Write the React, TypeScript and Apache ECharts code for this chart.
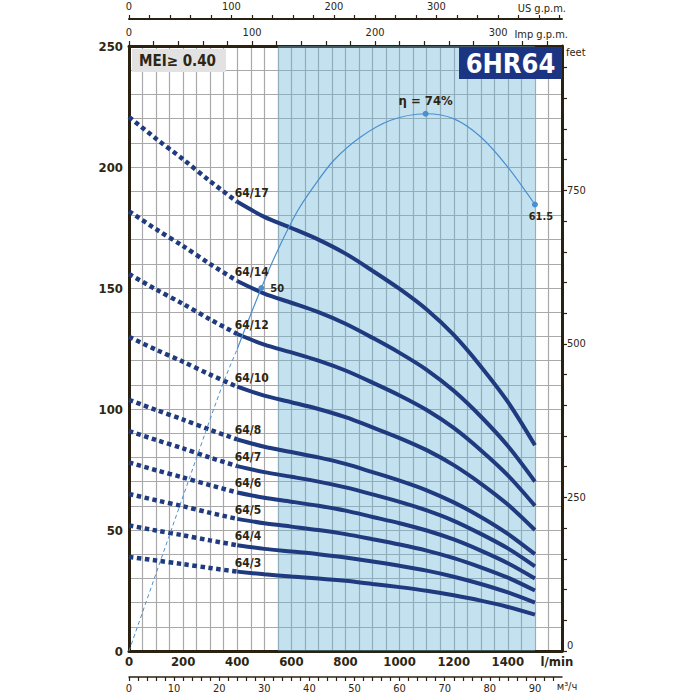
import React, { useEffect, useRef } from 'react';
import * as echarts from 'echarts';

// ---- Data ----
const flowLmin = [0, 100, 200, 300, 400, 500, 600, 700, 800, 900, 1000, 1100, 1200, 1300, 1400, 1500];
const curveNames = ['64/3', '64/4', '64/5', '64/6', '64/7', '64/8', '64/10', '64/12', '64/14', '64/17'];
const head64_3 = [38.9, 37.4, 35.9, 34.3, 32.8, 31.7, 30.8, 30.0, 29.0, 27.7, 26.4, 24.9, 23.0, 20.8, 18.2, 15.0];
const head64_4 = [51.9, 49.8, 47.8, 45.7, 43.7, 42.2, 41.1, 40.0, 38.6, 37.0, 35.2, 33.2, 30.7, 27.7, 24.2, 20.0];
const head64_5 = [64.9, 62.3, 59.8, 57.1, 54.6, 52.8, 51.4, 50.0, 48.3, 46.2, 44.0, 41.5, 38.4, 34.6, 30.3, 25.0];
const head64_6 = [77.9, 74.7, 71.7, 68.5, 65.5, 63.3, 61.7, 60.0, 58.0, 55.4, 52.8, 49.8, 46.1, 41.5, 36.3, 30.0];
const head64_7 = [90.9, 87.2, 83.7, 79.9, 76.4, 73.9, 72.0, 70.0, 67.6, 64.7, 61.6, 58.1, 53.8, 48.4, 42.4, 35.0];
const head64_8 = [103.8, 99.6, 95.6, 91.4, 87.4, 84.4, 82.2, 80.0, 77.3, 73.9, 70.4, 66.4, 61.4, 55.4, 48.4, 40.0];
const head64_10 = [129.8, 124.5, 119.5, 114.2, 109.2, 105.5, 102.8, 100.0, 96.6, 92.4, 88.0, 83.0, 76.8, 69.2, 60.5, 50.0];
const head64_12 = [155.8, 149.4, 143.4, 137.0, 131.0, 126.6, 123.4, 120.0, 115.9, 110.9, 105.6, 99.6, 92.2, 83.0, 72.6, 60.0];
const head64_14 = [181.7, 174.3, 167.3, 159.9, 152.9, 147.7, 143.9, 140.0, 135.2, 129.4, 123.2, 116.2, 107.5, 96.9, 84.7, 70.0];
const head64_17 = [220.7, 211.7, 203.2, 194.1, 185.6, 179.4, 174.8, 170.0, 164.2, 157.1, 149.6, 141.1, 130.6, 117.6, 102.9, 85.0];
const curveHeads = [head64_3, head64_4, head64_5, head64_6, head64_7, head64_8, head64_10, head64_12, head64_14, head64_17];
const dottedUntil = 400; // l/min, end of dotted part

const effDashedFlow = [0, 195, 343, 400];
const effDashed = [0, 20.8, 36.4, 41.6];
const effFlow = [400, 489, 547, 621, 683, 757, 856, 967, 1096, 1201, 1300, 1399, 1500];
const effValues = [41.6, 50, 55.0, 60.5, 64.0, 67.6, 70.8, 73.1, 74, 73.3, 70.8, 66.7, 61.5];
const effMarkedFlows = [489, 1096, 1500];

const operatingRange = [550, 1500];

const FONT = "'Liberation Sans Narrow', 'DejaVu Sans Condensed', 'Noto Sans', sans-serif";
const AXIS = '#2b2112';
const TXT = '#2e2614';
const CURVE = '#1f3a7e';
const EFF = '#4a8fd0';
const GRID = '#a9a9a9';

export default function App() {
  const ref = useRef<HTMLDivElement>(null);
  useEffect(() => {
    if (!ref.current) return;
    const chart = echarts.init(ref.current, undefined, { renderer: 'svg' });

    const series: any[] = [];
    series.push({
      type: 'line',
      data: [],
      xAxisIndex: 0,
      yAxisIndex: 0,
      silent: true,
      markArea: {
        silent: true,
        itemStyle: { color: 'rgba(105,180,212,0.4)' },
        data: [[{ xAxis: operatingRange[0], yAxis: 0 }, { xAxis: operatingRange[1], yAxis: 250 }]],
      },
    });

    curveNames.forEach((name, i) => {
      const pts = flowLmin.map((q, k) => [q, curveHeads[i][k]]);
      const dotted = pts.filter((p) => p[0] <= dottedUntil);
      const solid = pts.filter((p) => p[0] >= dottedUntil);
      series.push({
        type: 'line',
        name: name + ' dotted',
        data: dotted,
        smooth: 0.3,
        showSymbol: false,
        xAxisIndex: 0,
        yAxisIndex: 0,
        lineStyle: { color: CURVE, width: 4.5, type: [4.5, 3.5], cap: 'butt' },
        z: 3,
      });
      series.push({
        type: 'line',
        name,
        data: solid,
        smooth: 0.3,
        showSymbol: false,
        xAxisIndex: 0,
        yAxisIndex: 0,
        lineStyle: { color: CURVE, width: 4 },
        z: 3,
        markPoint: {
          silent: true,
          symbol: 'circle',
          symbolSize: 1,
          itemStyle: { color: 'rgba(0,0,0,0)' },
          label: {
            show: true,
            position: 'right',
            distance: 0,
            offset: [-3, -9],
            formatter: name,
            color: TXT,
            fontFamily: FONT,
            fontWeight: 'bold',
            fontSize: 12,
          },
          data: [{ coord: solid[0] }],
        },
      });
    });

    series.push({
      type: 'line',
      data: effDashedFlow.map((q, k) => [q, effDashed[k]]),
      smooth: 0.3,
      showSymbol: false,
      xAxisIndex: 0,
      yAxisIndex: 2,
      lineStyle: { color: EFF, width: 1, type: [4, 3] },
      z: 4,
    });
    series.push({
      type: 'line',
      data: effFlow.map((q, k) => {
        const v = effValues[k];
        if (!effMarkedFlows.includes(q)) return { value: [q, v], symbol: 'none' };
        const isPeak = v === Math.max(...effValues);
        const isEnd = k === effFlow.length - 1;
        return {
          value: [q, v],
          symbol: 'circle',
          symbolSize: 6,
          label: {
            show: true,
            position: isPeak ? 'top' : isEnd ? 'bottom' : 'right',
            distance: isPeak ? 4 : isEnd ? 3 : 6,
            offset: isEnd ? [6, 0] : [0, 0],
            formatter: isPeak ? `η = ${v}%` : `${v}`,
            color: TXT,
            fontFamily: FONT,
            fontWeight: 'bold',
            fontSize: isPeak ? 13 : 11,
          },
        };
      }),
      smooth: 0.3,
      showSymbol: true,
      xAxisIndex: 0,
      yAxisIndex: 2,
      itemStyle: { color: EFF },
      lineStyle: { color: EFF, width: 1.2 },
      z: 4,
    });

    const lab = (extra: any) => ({ color: TXT, fontFamily: FONT, ...extra });

    chart.setOption({
      animation: false,
      backgroundColor: '#ffffff',
      grid: { left: 129, right: 138, top: 46, bottom: 49, containLabel: false },
      xAxis: [
        {
          type: 'value', position: 'bottom', min: 0, max: 1600, interval: 50,
          axisLine: { show: true, onZero: false, lineStyle: { color: AXIS, width: 3 } },
          axisTick: { show: false },
          axisLabel: lab({ fontSize: 13, fontWeight: 'bold', margin: 4, showMaxLabel: false,
            formatter: (v: number) => (v % 200 === 0 && v <= 1400 ? String(v) : '') }),
          splitLine: { show: true, lineStyle: { color: GRID, width: 1.2 } },
        },
        {
          type: 'value', position: 'top', min: 0, max: 1600 / 4.54609, interval: 20,
          axisLine: { show: true, onZero: false, lineStyle: { color: AXIS, width: 3 } },
          axisTick: { show: true, length: 5, lineStyle: { color: AXIS, width: 1.2 } },
          axisLabel: lab({ fontSize: 11, margin: 8, showMaxLabel: false,
            formatter: (v: number) => (v % 100 === 0 && v <= 300 ? String(v) : '') }),
          splitLine: { show: false },
        },
        {
          type: 'value', position: 'top', offset: 27, min: 0, max: 1600 / 3.78541, interval: 20,
          axisLine: { show: true, onZero: false, lineStyle: { color: AXIS, width: 2 } },
          axisTick: { show: true, length: 4, lineStyle: { color: AXIS, width: 1.2 } },
          axisLabel: lab({ fontSize: 11, margin: 7, showMaxLabel: false,
            formatter: (v: number) => (v % 100 === 0 && v <= 300 ? String(v) : '') }),
          splitLine: { show: false },
        },
        {
          type: 'value', position: 'bottom', offset: 26, min: 0, max: 96, interval: 2,
          axisLine: { show: true, onZero: false, lineStyle: { color: AXIS, width: 1.5 } },
          axisTick: { show: true, length: 4, lineStyle: { color: AXIS, width: 1.2 } },
          axisLabel: lab({ fontSize: 11, margin: 6, showMaxLabel: false,
            formatter: (v: number) => (v % 10 === 0 && v <= 90 ? String(v) : '') }),
          splitLine: { show: false },
        },
      ],
      yAxis: [
        {
          type: 'value', position: 'left', min: 0, max: 250, interval: 10,
          axisLine: { show: true, onZero: false, lineStyle: { color: AXIS, width: 3 } },
          axisTick: { show: false },
          axisLabel: lab({ fontSize: 13, fontWeight: 'bold', margin: 6,
            formatter: (v: number) => (v % 50 === 0 ? String(v) : '') }),
          splitLine: { show: true, lineStyle: { color: GRID, width: 1.2 } },
        },
        {
          type: 'value', position: 'right', min: 0, max: 985, interval: 50,
          axisLine: { show: true, onZero: false, lineStyle: { color: AXIS, width: 3 } },
          axisTick: { show: true, length: 5, lineStyle: { color: AXIS, width: 1.2 } },
          axisLabel: lab({ fontSize: 11, margin: 5, showMaxLabel: false,
            formatter: (v: number) => (v === 0 ? '{z|0}' : v % 250 === 0 ? String(v) : ''),
            rich: { z: { fontSize: 11, fontFamily: FONT, color: TXT, padding: [0, 0, 12, 0] } } }),
          splitLine: { show: false },
        },
        { type: 'value', min: 0, max: 250 / 3, show: false },
      ],
      graphic: [
        { type: 'rect', z: 100, shape: { x: 132, y: 49, width: 94, height: 23 }, style: { fill: '#e2e2e2' } },
        { type: 'text', z: 101, x: 139, y: 61, style: { text: 'MEI≥ 0.40', font: `bold 15px ${FONT}`, fill: TXT, align: 'left', verticalAlign: 'middle' } },
        { type: 'rect', z: 100, shape: { x: 459, y: 47, width: 103, height: 32 }, style: { fill: '#1c3583' } },
        { type: 'text', z: 101, x: 510.5, y: 63.5, style: { text: '6HR64', font: `bold 27px ${FONT}`, fill: '#ffffff', align: 'center', verticalAlign: 'middle' } },
        { type: 'text', z: 101, x: 566, y: 8, style: { text: 'US g.p.m.', font: `11px ${FONT}`, fill: TXT, align: 'right', verticalAlign: 'middle' } },
        { type: 'text', z: 101, x: 568, y: 34, style: { text: 'Imp g.p.m.', font: `11px ${FONT}`, fill: TXT, align: 'right', verticalAlign: 'middle' } },
        { type: 'text', z: 101, x: 566, y: 52, style: { text: 'feet', font: `11px ${FONT}`, fill: TXT, align: 'left', verticalAlign: 'middle' } },
        { type: 'text', z: 101, x: 557, y: 661, style: { text: 'l/min', font: `bold 13px ${FONT}`, fill: TXT, align: 'center', verticalAlign: 'middle' } },
        { type: 'text', z: 101, x: 567, y: 686, style: { text: 'м³/ч', font: `11px ${FONT}`, fill: TXT, align: 'center', verticalAlign: 'middle' } },
      ],
      series,
    });
    return () => chart.dispose();
  }, []);
  return <div ref={ref} style={{ position: 'fixed', left: 0, top: 0, width: 700, height: 700, background: '#fff' }} />;
}
